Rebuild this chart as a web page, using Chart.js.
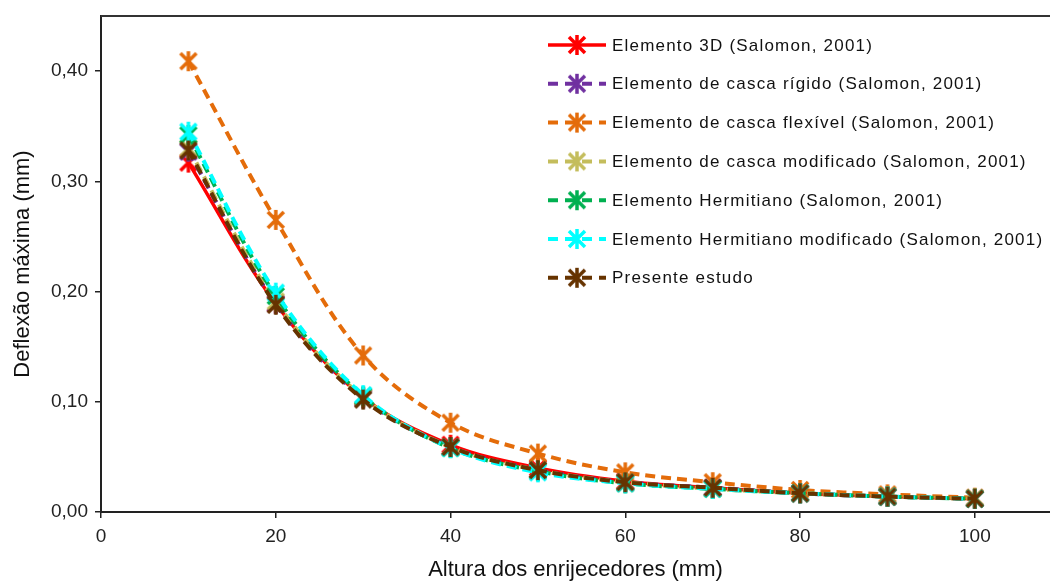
<!DOCTYPE html>
<html>
<head>
<meta charset="utf-8">
<script src="https://cdn.jsdelivr.net/npm/chart.js@4.4.1/dist/chart.umd.min.js"></script>
<style>
    body { margin: 0; background: #fff; }
    #wrap { width: 1050px; height: 583px; }
</style>
</head>
<body>
<div id="wrap"><canvas id="deflexaoChart" width="1050" height="583"></canvas></div>
<script>
// dados
var alturas = [10, 20, 30, 40, 50, 60, 70, 80, 90, 100];
var xTicks = [0, 20, 40, 60, 80, 100];
var yTicks = [0, 0.1, 0.2, 0.3, 0.4];

var elemento3D = [0.317, 0.189, 0.104, 0.061, 0.040, 0.028, 0.022, 0.017, 0.014, 0.012];
var cascaRigido = [0.327, 0.189, 0.103, 0.059, 0.038, 0.027, 0.022, 0.017, 0.014, 0.012];
var cascaFlexivel = [0.409, 0.265, 0.142, 0.081, 0.053, 0.036, 0.027, 0.020, 0.016, 0.013];
var cascaModificado = [0.330, 0.191, 0.104, 0.059, 0.038, 0.027, 0.021, 0.017, 0.014, 0.012];
var hermitiano = [0.342, 0.196, 0.105, 0.058, 0.037, 0.026, 0.021, 0.017, 0.014, 0.012];
var hermitianoMod = [0.345, 0.199, 0.106, 0.058, 0.036, 0.026, 0.021, 0.017, 0.014, 0.012];
var presenteEstudo = [0.328, 0.188, 0.102, 0.059, 0.038, 0.027, 0.022, 0.017, 0.014, 0.012];

var nomes = [
    "Elemento 3D (Salomon, 2001)",
    "Elemento de casca rígido (Salomon, 2001)",
    "Elemento de casca flexível (Salomon, 2001)",
    "Elemento de casca modificado (Salomon, 2001)",
    "Elemento Hermitiano (Salomon, 2001)",
    "Elemento Hermitiano modificado (Salomon, 2001)",
    "Presente estudo"
];
var cores = ["#ff0000", "#7030a0", "#e46c0a", "#c4bd5c", "#00b050", "#00ffff", "#663300"];
var ordem = [6, 5, 4, 3, 2, 1, 0];

// marcador tipo asterisco do Excel (X + traço vertical)
function makeStar(color) {
    var c = document.createElement("canvas");
    c.width = 22; c.height = 22;
    var g = c.getContext("2d");
    g.strokeStyle = color;
    g.lineWidth = 3.5;
    g.lineCap = "butt";
    g.beginPath();
    g.moveTo(11, 1); g.lineTo(11, 21);
    g.moveTo(3, 3); g.lineTo(19, 19);
    g.moveTo(19, 3); g.lineTo(3, 19);
    g.stroke();
    return c;
}

function pts(vals) {
    var out = [];
    for (var i = 0; i < alturas.length; i++) {
        out.push({x: alturas[i], y: vals[i]});
    }
    return out;
}

var series = [elemento3D, cascaRigido, cascaFlexivel, cascaModificado, hermitiano, hermitianoMod, presenteEstudo];
var datasets = [];
for (var i = 0; i < series.length; i++) {
    datasets.push({
        label: nomes[i],
        data: pts(series[i]),
        borderColor: cores[i],
        backgroundColor: cores[i],
        borderWidth: i == 0 ? 3.5 : 4,
        borderDash: i == 0 ? [] : [10, 6],
        pointStyle: makeStar(cores[i]),
        pointRadius: 10,
        tension: 0.35,
        order: ordem[i],
        fill: false
    });
}

// legenda desenhada à mão (linha + marcador + texto)
var legendaPlugin = {
    id: "legenda",
    afterDraw: function (chart) {
        var ctx = chart.ctx;
        ctx.save();
        for (var i = 0; i < datasets.length; i++) {
            var ds = datasets[i];
            var y = 45 + i * 38.8;
            ctx.strokeStyle = ds.borderColor;
            ctx.lineWidth = ds.borderWidth;
            ctx.setLineDash(ds.borderDash.length ? [10, 7] : []);
            ctx.beginPath();
            ctx.moveTo(548, y);
            ctx.lineTo(606, y);
            ctx.stroke();
            ctx.drawImage(ds.pointStyle, 577 - 11, y - 11);
            ctx.setLineDash([]);
            ctx.fillStyle = "#111";
            ctx.font = "17px 'Liberation Sans', Arial, sans-serif";
            ctx.letterSpacing = "1.2px";
            ctx.textBaseline = "middle";
            ctx.textAlign = "left";
            ctx.fillText(ds.label, 612, y + 1);
        }
        ctx.restore();
    },
    beforeDatasetsDraw: function (chart) {
        // linha superior da área do gráfico
        var a = chart.chartArea;
        var ctx = chart.ctx;
        ctx.save();
        ctx.strokeStyle = "#333";
        ctx.lineWidth = 2;
        ctx.beginPath();
        ctx.moveTo(a.left, a.top);
        ctx.lineTo(a.right, a.top);
        ctx.stroke();
        ctx.restore();
    }
};

var ctx = document.getElementById("deflexaoChart").getContext("2d");
var chart = new Chart(ctx, {
    type: "line",
    data: { datasets: datasets },
    plugins: [legendaPlugin],
    options: {
        responsive: false,
        animation: false,
        layout: { autoPadding: false, padding: { top: 16, left: 0, right: 0, bottom: 0 } },
        plugins: { legend: { display: false }, tooltip: { enabled: false } },
        scales: {
            x: {
                type: "linear",
                min: 0,
                max: 108.6,
                afterBuildTicks: function (s) {
                    s.ticks = xTicks.map(function (v) { return {value: v}; });
                },
                afterFit: function (s) {
                    s.height = 71;
                    s.paddingLeft = 0;
                    s.paddingRight = 0;
                },
                grid: { drawOnChartArea: false, drawTicks: true, tickLength: 6, color: "#222", lineWidth: 1.5 },
                border: { color: "#222", width: 2 },
                ticks: {
                    padding: 7,
                    color: "#222",
                    font: { family: "'Liberation Sans', Arial", size: 19 },
                    callback: function (v) { return v; }
                },
                title: {
                    display: true,
                    text: "Altura dos enrijecedores (mm)",
                    color: "#111",
                    font: { family: "'Liberation Sans', Arial", size: 22 },
                    padding: { top: 0, bottom: 0 }
                }
            },
            y: {
                min: 0,
                max: 0.45,
                afterBuildTicks: function (s) {
                    s.ticks = yTicks.map(function (v) { return {value: v}; });
                },
                afterFit: function (s) {
                    s.width = 101;
                    s.paddingTop = 0;
                    s.paddingBottom = 0;
                },
                grid: { drawOnChartArea: false, drawTicks: true, tickLength: 6, color: "#222", lineWidth: 1.5 },
                border: { color: "#222", width: 2 },
                ticks: {
                    padding: 7,
                    color: "#222",
                    font: { family: "'Liberation Sans', Arial", size: 19 },
                    callback: function (v) { return v.toFixed(2).replace(".", ","); }
                },
                title: {
                    display: true,
                    text: "Deflexão máxima (mm)",
                    color: "#111",
                    font: { family: "'Liberation Sans', Arial", size: 22 },
                    padding: { top: 10, bottom: 0 }
                }
            }
        }
    }
});
</script>
</body>
</html>
